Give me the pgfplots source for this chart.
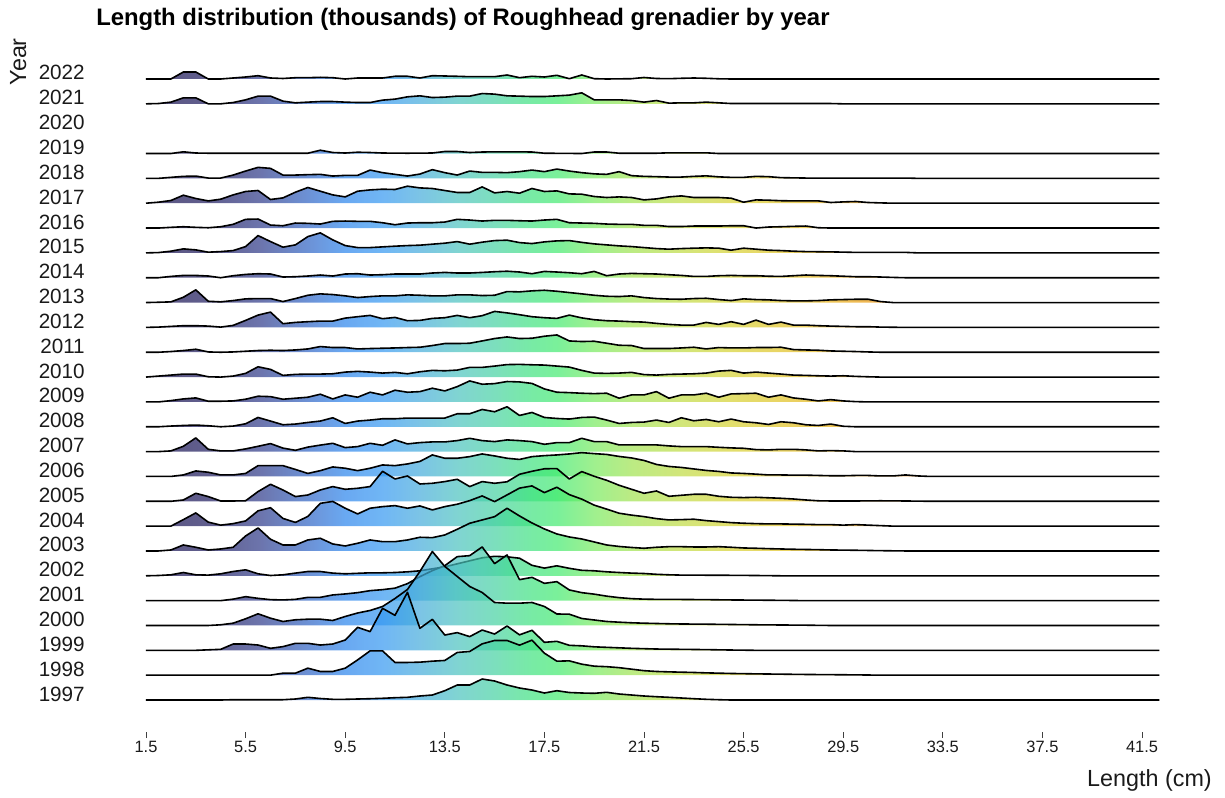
\documentclass[border=0pt]{standalone}
\usepackage{fontspec}
\setmainfont{Liberation Sans}
\usepackage{pgfplots}
\pgfplotsset{compat=1.18}
\definecolor{sA}{RGB}{19,12,74}
\definecolor{sB}{RGB}{29,26,94}
\definecolor{sC}{RGB}{45,56,135}
\definecolor{sD}{RGB}{46,99,196}
\definecolor{sE}{RGB}{42,132,236}
\definecolor{sF}{RGB}{51,151,241}
\definecolor{sG}{RGB}{68,171,219}
\definecolor{sH}{RGB}{74,194,191}
\definecolor{sI}{RGB}{69,209,161}
\definecolor{sJ}{RGB}{62,226,126}
\definecolor{sK}{RGB}{65,234,111}
\definecolor{sL}{RGB}{119,234,94}
\definecolor{sM}{RGB}{159,226,79}
\definecolor{sN}{RGB}{191,219,65}
\definecolor{sO}{RGB}{214,209,48}
\definecolor{sP}{RGB}{224,194,34}
\definecolor{sQ}{RGB}{231,174,19}
\definecolor{sR}{RGB}{234,146,8}
\definecolor{sS}{RGB}{234,114,0}
\definecolor{sT}{RGB}{231,76,0}
\definecolor{sU}{RGB}{219,34,0}
\definecolor{txt}{RGB}{26,26,26}
\pgfdeclarehorizontalshading{ridgeshade}{100bp}{color(0bp)=(sA); color(25bp)=(sA); color(28.07bp)=(sB); color(30.53bp)=(sC); color(32.99bp)=(sD); color(34.83bp)=(sE); color(36.67bp)=(sF); color(38.51bp)=(sG); color(40.36bp)=(sH); color(42.20bp)=(sI); color(44.04bp)=(sJ); color(45.27bp)=(sK); color(47.11bp)=(sL); color(48.96bp)=(sM); color(51.41bp)=(sN); color(53.87bp)=(sO); color(56.33bp)=(sP); color(58.78bp)=(sQ); color(61.24bp)=(sR); color(63.70bp)=(sS); color(67.38bp)=(sT); color(75bp)=(sU); color(100bp)=(sU)}
\pgfplotsset{ridge/.style={draw=black, line width=1.2pt, line join=round, shade, shading=ridgeshade, fill opacity=0.7, y filter/.expression={y+#1}}}
\begin{document}
\begin{tikzpicture}
\begin{axis}[
  x=18.675pt, y=0.75pt,
  xmin=1.5, xmax=42.2, ymin=-32, ymax=640,
  clip=false,
  axis y line=none,
  axis x line=bottom,
  x axis line style={draw=none},
  xtick={1.5,5.5,9.5,13.5,17.5,21.5,25.5,29.5,33.5,37.5,41.5},
  xticklabels={1.5,5.5,9.5,13.5,17.5,21.5,25.5,29.5,33.5,37.5,41.5},
  xtick align=outside,
  major tick length=4.5pt,
  xtick style={color=black!75, line width=0.6pt},
  xticklabel style={font=\fontsize{12.3}{12.3}\selectfont, text=txt, anchor=base, inner sep=0pt, yshift=-10.5pt},
  ytick=\empty,
]
% 2022
\addplot[ridge=621] coordinates {(1.5,0)(2,0)(2.5,0)(3,7)(3.5,7)(4,0)(4.5,0)(5,1)(5.5,2)(6,3.3)(6.5,1)(7,0.5)(7.5,1.3)(8,1.3)(8.5,1.7)(9,1.3)(9.5,0)(10,1)(10.5,1)(11,1)(11.5,2.7)(12,2.7)(12.5,1)(13,3.3)(13.5,3)(14,2.7)(14.5,2.3)(15,2.3)(15.5,2.3)(16,4)(16.5,1.3)(17,2.7)(17.5,2)(18,3.7)(18.5,0.3)(19,4)(19.5,0.3)(20,0)(21,0.3)(21.5,1.5)(22,0.5)(22.5,0.3)(23,0.7)(23.5,1)(24,0.7)(24.5,0.2)(25,0)(42.2,0)};
% 2021
\addplot[ridge=596.16] coordinates {(1.5,0)(2,0.3)(2.5,1.7)(3,6)(3.5,6)(4,0)(4.5,0)(5,1.3)(5.5,4)(6,7.7)(6.5,7.7)(7,2.7)(7.5,1)(8,1.7)(8.5,2.3)(9,2.3)(9.5,1.7)(10,1.3)(10.5,1.3)(11,3.7)(11.5,4.7)(12,7)(12.5,8)(13,6.3)(13.5,6.7)(14,7.7)(14.5,7.7)(15,10.3)(15.5,9.7)(16,8)(16.5,7.7)(17,7.3)(17.5,7.3)(18,8)(18.5,8.7)(19,11)(19.5,4)(20,4)(20.5,4)(21,3.3)(21.5,1.7)(22,3.3)(22.5,0.7)(23,1)(23.5,1)(24,1.7)(24.5,1)(25,0.3)(29,0.3)(29.5,0)(42.2,0)};
% 2019
\addplot[ridge=546.48] coordinates {(1.5,0)(2.5,0)(3,1.7)(3.5,0.5)(4,0.3)(8,0.3)(8.5,3.3)(9,1)(9.5,0.5)(10,1.3)(10.5,1)(11,0.5)(12,0.3)(13,0.5)(13.5,2)(14,2)(14.5,1)(15,1.5)(15.5,1.7)(16,1.7)(16.5,1.7)(17,1.5)(17.5,0.3)(19,0)(19.5,1.5)(20,1.5)(20.5,0.3)(22,0.3)(22.5,0.7)(24,0.7)(24.5,0)(42.2,0)};
% 2018
\addplot[ridge=521.64] coordinates {(1.5,0)(2,0)(2.5,1)(3,2)(3.5,2.3)(4,0.3)(4.5,0.3)(5,3.3)(5.5,7.3)(6,11)(6.5,10)(7,3.3)(7.5,3.3)(8,3.7)(8.5,4)(9,2.3)(9.5,3)(10,3)(10.5,8.3)(11,5.7)(11.5,4)(12,2.3)(12.5,4.3)(13,8.7)(13.5,5.7)(14,3.3)(14.5,7.3)(15,6)(15.5,6)(16,5.7)(16.5,6.7)(17,8.3)(17.5,6.7)(18,9.3)(18.5,7.3)(19,5.7)(19.5,4.5)(20,4)(20.5,6.7)(21,2.7)(21.5,2)(22,1.7)(22.5,1.3)(23,1.3)(23.5,2)(24,2.5)(24.5,1.5)(25,1)(25.5,1)(26,2)(26.5,1.7)(27,0.7)(28,0.3)(32,0.3)(32.5,0)(42.2,0)};
% 2017
\addplot[ridge=496.8] coordinates {(1.5,0)(2,1)(2.5,2.7)(3,8)(3.5,4.7)(4,2.3)(4.5,4)(5,8.3)(5.5,11.7)(6,12.7)(6.5,3.7)(7,5.3)(7.5,11)(8,15.7)(8.5,12)(9,8.3)(9.5,6.3)(10,12)(10.5,13.3)(11,14)(11.5,13.7)(12,17)(12.5,15.3)(13,14.7)(13.5,12.7)(14,10.7)(14.5,10.7)(15,16.3)(15.5,10.3)(16,11.7)(16.5,10)(17,14.7)(17.5,11.7)(18,12.3)(18.5,9.3)(19,9)(19.5,6.7)(20,5.7)(20.5,6.3)(21,5.7)(21.5,3.3)(22,4.3)(22.5,6.3)(23,7.3)(23.5,5.7)(24,5.7)(24.5,5.7)(25,5)(25.5,1)(26,3.3)(26.5,3)(27,2.5)(27.5,2.3)(28,2.3)(28.5,2.3)(29,0.7)(29.5,1.3)(30,1.7)(30.5,0.7)(31,0.3)(31.5,0)(42.2,0)};
% 2016
\addplot[ridge=471.96] coordinates {(1.5,0)(2,0)(2.5,0.7)(3,1.3)(3.5,0.7)(4,0.3)(4.5,1.3)(5,3.7)(5.5,8.7)(6,9)(6.5,3)(7,2.3)(7.5,5)(8,4.7)(8.5,4)(9,6.7)(9.5,7)(10,6.7)(10.5,6.7)(11,5.3)(11.5,3.3)(12,5)(12.5,5.3)(13,5.3)(13.5,6)(14,8.7)(14.5,8)(15,7)(15.5,7.7)(16,7.7)(16.5,7.3)(17,7)(17.5,8)(18,8.7)(18.5,5.3)(19,5)(19.5,4.7)(20,4)(20.5,3.7)(21,3.7)(21.5,2.7)(22,2.7)(22.5,1.5)(23,1.5)(23.5,2)(24,2)(24.5,2)(25,2.3)(25.5,2.3)(26,0)(26.5,1)(27,1.3)(27.5,1.7)(28,2)(28.5,0.3)(29,0)(42.2,0)};
% 2015
\addplot[ridge=447.12] coordinates {(1.5,0)(2,0.3)(2.5,1.7)(3,4)(3.5,3)(4,0.7)(4.5,1.3)(5,2.3)(5.5,6.3)(6,17.3)(6.5,11.3)(7,5.7)(7.5,8)(8,16.3)(8.5,20)(9,13)(9.5,7.3)(10,5.3)(10.5,5.3)(11,6)(11.5,6.7)(12,7.3)(12.5,7.7)(13,8.7)(13.5,9.7)(14,11.3)(14.5,8.7)(15,10.7)(15.5,12.3)(16,12.7)(16.5,10.3)(17,9.3)(17.5,11)(18,12)(18.5,12.3)(19,10.5)(19.5,9)(20,8)(20.5,7)(21,6.3)(21.5,5.3)(22,4.3)(22.5,3.7)(23,4.3)(23.5,4.7)(24,5)(24.5,4.7)(25,2.7)(25.5,4.7)(26,3.7)(26.5,2.7)(27,2.3)(27.5,1.7)(28,1.3)(29,1)(30,0.5)(32,0.5)(32.5,0)(42.2,0)};
% 2014
\addplot[ridge=422.28] coordinates {(1.5,0)(2,0)(2.5,1.3)(3,2.3)(3.5,2.3)(4,1.7)(4.5,0)(5,2)(5.5,3.3)(6,4)(6.5,3.7)(7,0.7)(7.5,1)(8,1.7)(8.5,2.7)(9,1.7)(9.5,3.7)(10,4)(10.5,2.7)(11,3)(11.5,3.7)(12,3.7)(12.5,3.7)(13,4.7)(13.5,5.3)(14,4.7)(14.5,4.7)(15,5.3)(15.5,6)(16,6.5)(16.5,5.7)(17,4)(17.5,6.3)(18,5.7)(18.5,5)(19,4)(19.5,6.3)(20,2)(20.5,3.7)(21,4.3)(21.5,4)(22,3.7)(22.5,3)(23,2.3)(23.5,1.3)(24,1.3)(24.5,2)(25,2.3)(25.5,2)(26,2)(26.5,1.5)(27,1.3)(27.5,2)(28,2.7)(28.5,2.3)(29,2)(29.5,1.5)(30,1)(30.5,1)(31,0.7)(31.5,0.3)(32,0)(42.2,0)};
% 2013
\addplot[ridge=397.44] coordinates {(1.5,0)(2,0.3)(2.5,0.7)(3,5.3)(3.5,12.7)(4,1.3)(4.5,0.7)(5,2)(5.5,3.7)(6,4)(6.5,4)(7,1)(7.5,4)(8,7.3)(8.5,8.7)(9,8)(9.5,6.7)(10,5)(10.5,6)(11,6.7)(11.5,6.7)(12,7.7)(12.5,7.3)(13,6.7)(13.5,6.7)(14,7.7)(14.5,7.7)(15,7)(15.5,7.3)(16,11)(16.5,10.7)(17,11.7)(17.5,12.3)(18,11.3)(18.5,10)(19,8.7)(19.5,7.3)(20,6.3)(20.5,6)(21,6.7)(21.5,5)(22,4)(22.5,3.5)(23,3.3)(23.5,4)(24,4.3)(24.5,3)(25,2)(25.5,3.7)(26,3)(26.5,2.7)(27,2)(27.5,1.7)(28,1.7)(28.5,2)(29,2.7)(29.5,3)(30,3.3)(30.5,3.3)(31,1)(31.5,0)(42.2,0)};
% 2012
\addplot[ridge=372.6] coordinates {(1.5,0)(2,0.3)(2.5,1)(3,1.7)(3.5,1.7)(4,1.3)(4.5,0.3)(5,2)(5.5,7)(6,12.3)(6.5,15.3)(7,3.7)(7.5,5)(8,5.7)(8.5,6.3)(9,6.3)(9.5,9.3)(10,10.7)(10.5,12)(11,8.7)(11.5,10)(12,6.7)(12.5,7)(13,9)(13.5,9.7)(14,12)(14.5,9.7)(15,11.7)(15.5,16)(16,14.5)(16.5,12.7)(17,10.7)(17.5,9.7)(18,9)(18.5,12.3)(19,9.5)(19.5,7.7)(20,6.7)(20.5,6.3)(21,5.7)(21.5,5.3)(22,4)(22.5,3)(23,2.3)(23.5,2.3)(24,5)(24.5,3)(25,5.7)(25.5,3)(26,7.3)(26.5,3)(27,5.3)(27.5,2.3)(28,2.3)(28.5,1.7)(29,1.3)(29.5,1)(30,0.7)(30.5,0.7)(31,0.3)(32,0)(42.2,0)};
% 2011
\addplot[ridge=347.76] coordinates {(1.5,0)(2,0)(2.5,0.7)(3,1.7)(3.5,3)(4,0.3)(4.5,0)(5,0.3)(5.5,1)(6,1.7)(6.5,2)(7,1.7)(7.5,2.3)(8,3.3)(8.5,5.7)(9,4.7)(9.5,4.7)(10,3.3)(10.5,3.7)(11,4)(11.5,4.3)(12,4.7)(12.5,5)(13,6.7)(13.5,8.7)(14,8.7)(14.5,9)(15,11.3)(15.5,13.7)(16,15.3)(16.5,13.7)(17,14)(17.5,16)(18,17.3)(18.5,11.3)(19,10.7)(19.5,11)(20,9)(20.5,7)(21,6.7)(21.5,3.7)(22,3.7)(22.5,3.7)(23,4.3)(23.5,5)(24,3.3)(24.5,4.7)(25,4.3)(25.5,4.3)(26,4.7)(26.5,4.7)(27,5)(27.5,2.7)(28,2.3)(28.5,2)(29,1.3)(29.5,1)(30,0.7)(30.5,0.3)(31,0)(42.2,0)};
% 2010
\addplot[ridge=322.92] coordinates {(1.5,0)(2,1)(2.5,2)(3,3)(3.5,3)(4,0.3)(4.5,0)(5,1)(5.5,3.7)(6,10.3)(6.5,7.7)(7,1.7)(7.5,2.7)(8,3)(8.5,3)(9,3.3)(9.5,5)(10,5.7)(10.5,5)(11,4)(11.5,4.7)(12,3.3)(12.5,5.3)(13,6.7)(13.5,6.3)(14,7)(14.5,9.7)(15,9.7)(15.5,11)(16,12.5)(16.5,12.7)(17,12.3)(17.5,12)(18,11)(18.5,10)(19,6.7)(19.5,4)(20,3.7)(20.5,4)(21,4.7)(21.5,2.5)(22,2)(22.5,2.7)(23,3)(23.5,3.3)(24,4)(24.5,6)(25,6.7)(25.5,4)(26,5)(26.5,4)(27,3)(27.5,2)(28,1.7)(28.5,1.3)(29,1)(29.5,1.3)(30,0.7)(30.5,0.3)(31,0)(42.2,0)};
% 2009
\addplot[ridge=298.08] coordinates {(1.5,0)(2,0)(2.5,1.3)(3,3)(3.5,4)(4,0.7)(4.5,0.7)(5,1)(5.5,2.7)(6,5.7)(6.5,5.3)(7,2.7)(7.5,3.7)(8,4.7)(8.5,7.7)(9,3)(9.5,7)(10,4.7)(10.5,9.7)(11,7)(11.5,11.7)(12,9.7)(12.5,10.3)(13,13.7)(13.5,11)(14,15.3)(14.5,21)(15,17.7)(15.5,18.3)(16,20.4)(16.5,20)(17,18.5)(17.5,13)(18,9.7)(18.5,9.3)(19,8.7)(19.5,8.3)(20,8.7)(20.5,3.7)(21,7)(21.5,7)(22,10.3)(22.5,3.7)(23,7)(23.5,7)(24,8.7)(24.5,4.7)(25,8)(25.5,8.3)(26,8.7)(26.5,4.7)(27,7)(27.5,4)(28,2.7)(28.5,1)(29,2.3)(29.5,1)(30,0.3)(30.5,0)(42.2,0)};
% 2008
\addplot[ridge=273.24] coordinates {(1.5,0)(2,0)(2.5,0.7)(3,1.3)(3.5,1.7)(4,1)(4.5,0)(5,0.7)(5.5,3)(6,9.3)(6.5,5.7)(7,2)(7.5,2.7)(8,4.3)(8.5,5.7)(9,9)(9.5,3.3)(10,5.7)(10.5,6.7)(11,8)(11.5,8)(12,8.7)(12.5,8.7)(13,8.7)(13.5,8.7)(14,13)(14.5,13)(15,17.3)(15.5,15)(16,20)(16.5,11.3)(17,14.3)(17.5,9.3)(18,8.3)(18.5,7.7)(19,9.3)(19.5,9.7)(20,6.7)(20.5,3.3)(21,4.3)(21.5,4.7)(22,6.7)(22.5,4.3)(23,9)(23.5,6)(24,7.3)(24.5,5)(25,7.7)(25.5,5)(26,4)(26.5,2.3)(27,5)(27.5,4)(28,2)(28.5,1.3)(29,2.7)(29.5,0.5)(30,0)(42.2,0)};
% 2007
\addplot[ridge=248.4] coordinates {(1.5,0)(2,0)(2.5,0.7)(3,5.3)(3.5,13.7)(4,2.3)(4.5,0.7)(5,0.7)(5.5,2.7)(6,5.3)(6.5,8)(7,3.5)(7.5,1.3)(8,4.5)(8.5,6.5)(9,8.3)(9.5,4)(10,5)(10.5,8.3)(11,6.3)(11.5,11.7)(12,7.7)(12.5,9)(13,9.7)(13.5,9.7)(14,11)(14.5,13.3)(15,11)(15.5,10)(16,11.7)(16.5,11)(17,10)(17.5,7.3)(18,9)(18.5,9)(19,13.3)(19.5,10)(20,10)(20.5,6.7)(21,6.7)(21.5,6.7)(22,6.7)(22.5,5.7)(23,5)(23.5,5)(24,5)(24.5,4.3)(25,3.7)(25.5,3.3)(26,2)(26.5,1.7)(27,2.3)(27.5,2.3)(28,1.7)(28.5,0.7)(29,1)(29.5,0.7)(30,0)(42.2,0)};
% 2006
\addplot[ridge=223.56] coordinates {(1.5,0)(2.5,0)(3,1.5)(3.5,5.5)(4,4.2)(4.5,1.5)(5,1.5)(5.5,3)(6,10.8)(6.5,10.8)(7,10.8)(7.5,7)(8,3)(8.5,5.8)(9,9.5)(9.5,8.2)(10,5.8)(10.5,8.2)(11,11.5)(11.5,10.8)(12,12.5)(12.5,15)(13,21.5)(13.5,18.2)(14,18.2)(14.5,19.8)(15,22.5)(15.5,20.5)(16,18.2)(16.5,17)(17,19.8)(17.5,20.8)(18,21.5)(18.5,22.5)(19,23.8)(19.5,22.8)(20,22)(20.5,20)(21,18.5)(21.5,16)(22,12)(22.5,10)(23,9)(23.5,7.5)(24,6)(24.5,5)(25,3.5)(25.5,3)(26,2.3)(26.5,1.5)(27,1.5)(27.5,1.3)(28,1.3)(28.5,1)(29,0.7)(29.5,0.7)(30,1)(30.5,1)(31,0.5)(31.5,0.5)(32,1.5)(32.5,0.5)(33,0)(42.2,0)};
% 2005
\addplot[ridge=198.72] coordinates {(1.5,0)(2.5,0)(3,1.3)(3.5,8)(4,4.7)(4.5,0.3)(5,0.3)(5.5,0.5)(6,9.7)(6.5,17)(7,11.3)(7.5,4.7)(8,6.3)(8.5,11.3)(9,14.7)(9.5,12)(10,13)(10.5,14.7)(11,30)(11.5,22.3)(12,25.3)(12.5,17.3)(13,18)(13.5,19.7)(14,22)(14.5,14.7)(15,19.7)(15.5,18)(16,19.5)(16.5,27)(17,30)(17.5,32.5)(18,32.7)(18.5,22.3)(19,29.7)(19.5,25)(20,21)(20.5,16)(21,12)(21.5,8)(22,10.3)(22.5,5)(23,6)(23.5,7)(24,7)(24.5,5)(25,4)(25.5,3.7)(26,4)(26.5,3.5)(27,3)(27.5,2.3)(28,1.3)(28.5,0.5)(29,0.3)(30,0.3)(31,0.5)(32,0.3)(33,0)(42.2,0)};
% 2004
\addplot[ridge=173.88] coordinates {(1.5,0)(2.5,0)(3,6.5)(3.5,13.2)(4,4)(4.5,1)(5,2.5)(5.5,5.2)(6,15.3)(6.5,18.4)(7,7.7)(7.5,3.7)(8,9.7)(8.5,22.8)(9,24.7)(9.5,17.9)(10,12.2)(10.5,17.9)(11,19.5)(11.5,20.5)(12,17.9)(12.5,20.2)(13,16.2)(13.5,19.5)(14,21.9)(14.5,25.5)(15,30.2)(15.5,24.5)(16,31.2)(16.5,38)(17,40.2)(17.5,33.5)(18,38.9)(18.5,31.5)(19,27)(19.5,21)(20,17)(20.5,12.9)(21,11)(21.5,9.5)(22,7.5)(22.5,6.2)(23,6.5)(23.5,6.9)(24,5.5)(24.5,4.5)(25,3.5)(25.5,2.9)(26,2.5)(26.5,2.2)(27,2.2)(27.5,2)(28,1.8)(28.5,1.5)(29,1.5)(29.5,1)(30,1.5)(30.5,1)(31,0.5)(31.5,0)(42.2,0)};
% 2003
\addplot[ridge=149.04] coordinates {(1.5,0)(2,0)(2.5,1)(3,6)(3.5,3.7)(4,1)(4.5,2)(5,3.7)(5.5,15)(6,23)(6.5,11.7)(7,6)(7.5,6)(8,11)(8.5,12.7)(9,7)(9.5,5)(10,7.7)(10.5,11)(11,9.3)(11.5,9.3)(12,11)(12.5,13.7)(13,13.3)(13.5,16)(14,21.7)(14.5,27.7)(15,31)(15.5,34.3)(16,42.7)(16.5,35)(17,28)(17.5,22)(18,17)(18.5,14)(19,12)(19.5,9)(20,6)(20.5,4.5)(21,3.5)(21.5,2.7)(22,3.7)(22.5,4.3)(23,4.3)(23.5,4)(24,4)(24.5,4.3)(25,3.7)(25.5,3)(26,2.7)(26.5,2.3)(27,2)(27.5,1.7)(28,1.5)(28.5,1.3)(29,1)(30,0.7)(31,0.3)(32,0)(42.2,0)};
% 2002
\addplot[ridge=124.2] coordinates {(1.5,0)(2,0.3)(2.5,1)(3,3.3)(3.5,1)(4,0.7)(4.5,2)(5,4.3)(5.5,6)(6,2)(6.5,0.3)(7,1)(7.5,2.7)(8,4.3)(8.5,4.3)(9,2.7)(9.5,2)(10,2.5)(10.5,3)(11,3)(11.5,3.3)(12,4)(12.5,5)(13,7)(13.5,9)(14,12)(14.5,15)(15,18)(15.5,19.5)(16,19)(16.5,17.6)(17,10.5)(17.5,7.7)(18,10)(18.5,7.5)(19,5.5)(19.5,5)(20,4)(20.5,3.3)(21,2.7)(21.5,2.3)(22,1.5)(22.5,1)(23,0.7)(25,0.5)(26,0.3)(27,0)(42.2,0)};
% 2001
\addplot[ridge=99.36] coordinates {(1.5,0)(4.5,0)(5,1.5)(5.5,4)(6,2.3)(6.5,1)(7,0.7)(7.5,1.3)(8,3.3)(8.5,3.3)(9,5.7)(9.5,6.7)(10,8)(10.5,10)(11,11)(11.5,12.5)(12,17)(12.5,24)(13,30)(13.5,35)(14,44)(14.5,45)(15,53.7)(15.5,37)(16,45.7)(16.5,21)(17,23.3)(17.5,17.3)(18,19)(18.5,10.7)(19,8)(19.5,6.5)(20,4.5)(20.5,3)(21,2)(21.5,1.5)(22,1.3)(23,1.2)(24,1)(25,0.7)(26,0.5)(27,0.3)(28,0)(42.2,0)};
% 2000
\addplot[ridge=74.52] coordinates {(1.5,0)(4,0)(4.5,0.7)(5,2.3)(5.5,6.7)(6,11.7)(6.5,7.3)(7,4)(7.5,5.7)(8,6.3)(8.5,6.3)(9,5)(9.5,9)(10,12.5)(10.5,15)(11,19)(11.5,27)(12,36)(12.5,54)(13,74)(13.5,59)(14,49)(14.5,39)(15,33)(15.5,23)(16,22.3)(16.5,22.3)(17,23)(17.5,19)(18,11.5)(18.5,11.3)(19,7)(19.5,5.5)(20,4)(20.5,3.3)(21,2.7)(21.5,2.3)(22,2)(22.5,1.7)(23,1.5)(24,1.3)(25,1)(26,0.7)(27,0.5)(28,0.3)(29,0)(42.2,0)};
% 1999
\addplot[ridge=49.68] coordinates {(1.5,0)(3.5,0)(4,0.5)(4.5,1)(5,6.3)(5.5,6.3)(6,5.3)(6.5,2)(7,3.7)(7.5,7)(8,7)(8.5,5.3)(9,6.3)(9.5,10.3)(10,23)(10.5,18.7)(11,42)(11.5,35)(12,58)(12.5,22)(13,31)(13.5,15.3)(14,17.7)(14.5,13.7)(15,20.3)(15.5,16.3)(16,24.3)(16.5,15.5)(17,20)(17.5,8)(18,9)(18.5,5)(19,4.5)(19.5,3.5)(20,3)(20.5,2.5)(21,2)(22,1.3)(23,1)(24,0.7)(25,0.3)(26,0)(42.2,0)};
% 1998
\addplot[ridge=24.84] coordinates {(1.5,0)(6.5,0)(7,2)(7.5,2)(8,7)(8.5,3.7)(9,3.7)(9.5,7)(10,15.3)(10.5,24.3)(11,24.3)(11.5,12.7)(12,12.7)(12.5,13)(13,14)(13.5,14.7)(14,22.7)(14.5,23.7)(15,31.3)(15.5,34.7)(16,34.7)(16.5,30)(17,35)(17.5,22)(18,14)(18.5,14.3)(19,11)(19.5,9)(20,8.5)(20.5,7.5)(21,6)(21.5,4.5)(22,3.7)(22.5,3.3)(23,3)(23.5,2.7)(24,2.3)(24.5,2)(25,1.7)(26,1.3)(27,1)(28,0.7)(29,0.5)(30,0.3)(31,0)(42.2,0)};
% 1997
\addplot[ridge=0] coordinates {(1.5,0)(4.5,0)(5,0.3)(7,0.3)(7.5,1)(8,2.7)(8.5,1.5)(9,0.7)(9.5,0.7)(10,1)(10.5,1.3)(11,1.7)(11.5,2.3)(12,2.7)(12.5,4)(13,5)(13.5,9.3)(14,15)(14.5,15)(15,21)(15.5,19)(16,15)(16.5,12)(17,10)(17.5,7)(18,9.3)(18.5,7.5)(19,7)(19.5,6.7)(20,7.7)(20.5,6)(21,5)(21.5,4)(22,3.3)(22.5,2.7)(23,2)(23.5,1.3)(24,0.7)(24.5,0.3)(25,0)(42.2,0)};
% year labels
\begin{scope}[every node/.style={anchor=base east, font=\fontsize{15.5}{15.5}\selectfont, text=txt, inner sep=0pt}]
\node at (axis cs:-0.95,620) {2022};
\node at (axis cs:-0.95,595.16) {2021};
\node at (axis cs:-0.95,570.32) {2020};
\node at (axis cs:-0.95,545.48) {2019};
\node at (axis cs:-0.95,520.64) {2018};
\node at (axis cs:-0.95,495.8) {2017};
\node at (axis cs:-0.95,470.96) {2016};
\node at (axis cs:-0.95,446.12) {2015};
\node at (axis cs:-0.95,421.28) {2014};
\node at (axis cs:-0.95,396.44) {2013};
\node at (axis cs:-0.95,371.6) {2012};
\node at (axis cs:-0.95,346.76) {2011};
\node at (axis cs:-0.95,321.92) {2010};
\node at (axis cs:-0.95,297.08) {2009};
\node at (axis cs:-0.95,272.24) {2008};
\node at (axis cs:-0.95,247.4) {2007};
\node at (axis cs:-0.95,222.56) {2006};
\node at (axis cs:-0.95,197.72) {2005};
\node at (axis cs:-0.95,172.88) {2004};
\node at (axis cs:-0.95,148.04) {2003};
\node at (axis cs:-0.95,123.2) {2002};
\node at (axis cs:-0.95,98.36) {2001};
\node at (axis cs:-0.95,73.52) {2000};
\node at (axis cs:-0.95,48.68) {1999};
\node at (axis cs:-0.95,23.84) {1998};
\node at (axis cs:-0.95,-1) {1997};
\end{scope}
\node[anchor=base west, font=\bfseries\fontsize{17.9}{17.9}\selectfont, text=black, inner sep=0pt] at (axis cs:-0.508,674) {Length distribution (thousands) of Roughhead grenadier by year};
\node[anchor=base east, rotate=90, font=\fontsize{17.5}{17.5}\selectfont, text=txt, inner sep=0pt] at (axis cs:-3.319,662) {Year};
\node[anchor=base east, font=\fontsize{17.5}{17.5}\selectfont, text=txt, inner sep=0pt] at (axis cs:44.311,-86) {Length (cm)};
\coordinate (bbA) at (axis cs:-4.3635,700);
\coordinate (bbB) at (axis cs:44.833,-97);
\end{axis}
\pgfresetboundingbox
\useasboundingbox (bbA) rectangle (bbB);
\end{tikzpicture}
\end{document}
